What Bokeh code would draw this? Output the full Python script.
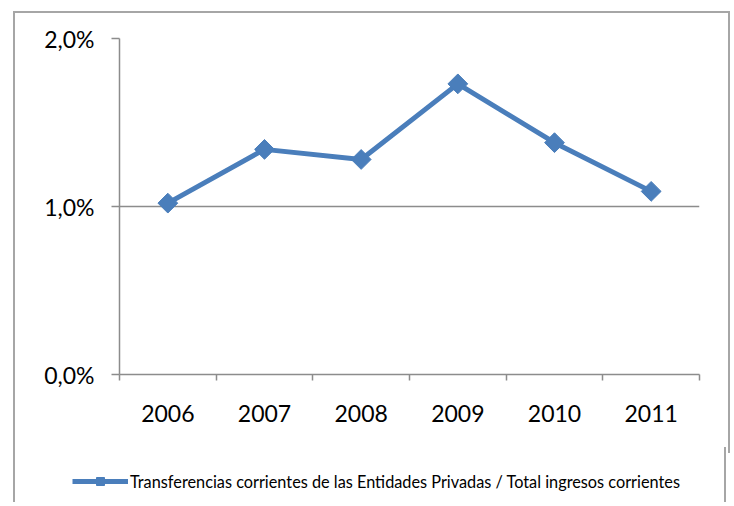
from bokeh.plotting import figure
from bokeh.models import FixedTicker, Range1d, Legend, LegendItem
from bokeh.embed import file_html
from bokeh.resources import INLINE

years = ["2006", "2007", "2008", "2009", "2010", "2011"]
values_pct = [1.02, 1.34, 1.28, 1.73, 1.38, 1.09]
y_ticks = [0, 1, 2]
y_tick_labels = ["0,0%", "1,0%", "2,0%"]
series_name = "Transferencias corrientes de las Entidades Privadas / Total ingresos corrientes"

xs = [i + 0.5 for i in range(len(years))]

FONT = "Lato"
GRID = "#8c8c8c"
BLUE = "#4a7ebb"
BORDER = "2px solid #a6a6a6"
W = 713

p = figure(width=W, height=440, output_backend="svg", toolbar_location=None,
           x_range=Range1d(0, len(years)), y_range=Range1d(0, 2),
           min_border_left=104, min_border_right=29, min_border_top=25, min_border_bottom=79,
           frame_width=580, frame_height=336)
p.outline_line_color = None
p.background_fill_color = "white"
p.border_fill_color = "white"
p.styles = {"margin-left": "13px", "margin-top": "11px", "border-top": BORDER,
            "border-left": BORDER, "border-right": BORDER}

# x axis
p.xaxis.ticker = FixedTicker(ticks=xs, minor_ticks=list(range(len(years) + 1)))
p.xaxis.major_label_overrides = {x: y for x, y in zip(xs, years)}
p.xaxis.major_tick_out = 0
p.xaxis.major_tick_in = 0
p.xaxis.minor_tick_out = 6
p.xaxis.minor_tick_in = 0
p.xaxis.minor_tick_line_color = GRID
p.xaxis.minor_tick_line_width = 1.5
p.xaxis.axis_line_color = GRID
p.xaxis.axis_line_width = 1.5
p.xaxis.major_label_text_font = FONT
p.xaxis.major_label_text_font_size = "23px"
p.xaxis.major_label_text_color = "black"
p.xaxis.major_label_standoff = 24

# y axis
p.yaxis.ticker = FixedTicker(ticks=y_ticks, minor_ticks=[])
p.yaxis.major_label_overrides = {t: l for t, l in zip(y_ticks, y_tick_labels)}
p.yaxis.major_tick_out = 8
p.yaxis.major_tick_in = 0
p.yaxis.major_tick_line_color = GRID
p.yaxis.major_tick_line_width = 1.5
p.yaxis.axis_line_color = GRID
p.yaxis.axis_line_width = 1.5
p.yaxis.major_label_text_font = FONT
p.yaxis.major_label_text_font_size = "23px"
p.yaxis.major_label_text_color = "black"
p.yaxis.major_label_standoff = 17

p.xgrid.grid_line_color = None
p.ygrid.ticker = FixedTicker(ticks=y_ticks)
p.ygrid.grid_line_color = GRID
p.ygrid.grid_line_width = 1.5

p.line(xs, values_pct, line_color=BLUE, line_width=5)
p.scatter(xs, values_pct, marker="square", angle=0.785398, size=14,
          fill_color=BLUE, line_color=BLUE)

# legend strip below the chart (its series lie outside its visible range)
lg = figure(width=W, height=55, output_backend="svg", toolbar_location=None,
            x_axis_type=None, y_axis_type=None,
            x_range=Range1d(0, len(years)), y_range=Range1d(10, 11),
            min_border_left=0, min_border_right=0, min_border_top=0, min_border_bottom=0)
lg.outline_line_color = None
lg.xgrid.grid_line_color = None
lg.ygrid.grid_line_color = None
lg.border_fill_color = "white"
lg.background_fill_color = "white"
lg.styles = {"margin-left": "13px", "margin-top": "-6px",
             "border-left": BORDER, "border-right": BORDER}
lln = lg.line(xs, values_pct, line_color=BLUE, line_width=5)
lmk = lg.scatter(xs, values_pct, marker="square", angle=0.785398, size=14,
                 fill_color=BLUE, line_color=BLUE)
legend = Legend(items=[LegendItem(label=series_name, renderers=[lln, lmk])],
                location=(57, 11), orientation="horizontal",
                border_line_color=None, background_fill_color=None,
                padding=0, margin=0, spacing=0, label_standoff=2,
                glyph_width=56, glyph_height=20,
                label_text_font=FONT, label_text_font_size="16.3px",
                label_text_color="black")
lg.add_layout(legend, "center")

open("out.html", "w").write(file_html([p, lg], INLINE))
